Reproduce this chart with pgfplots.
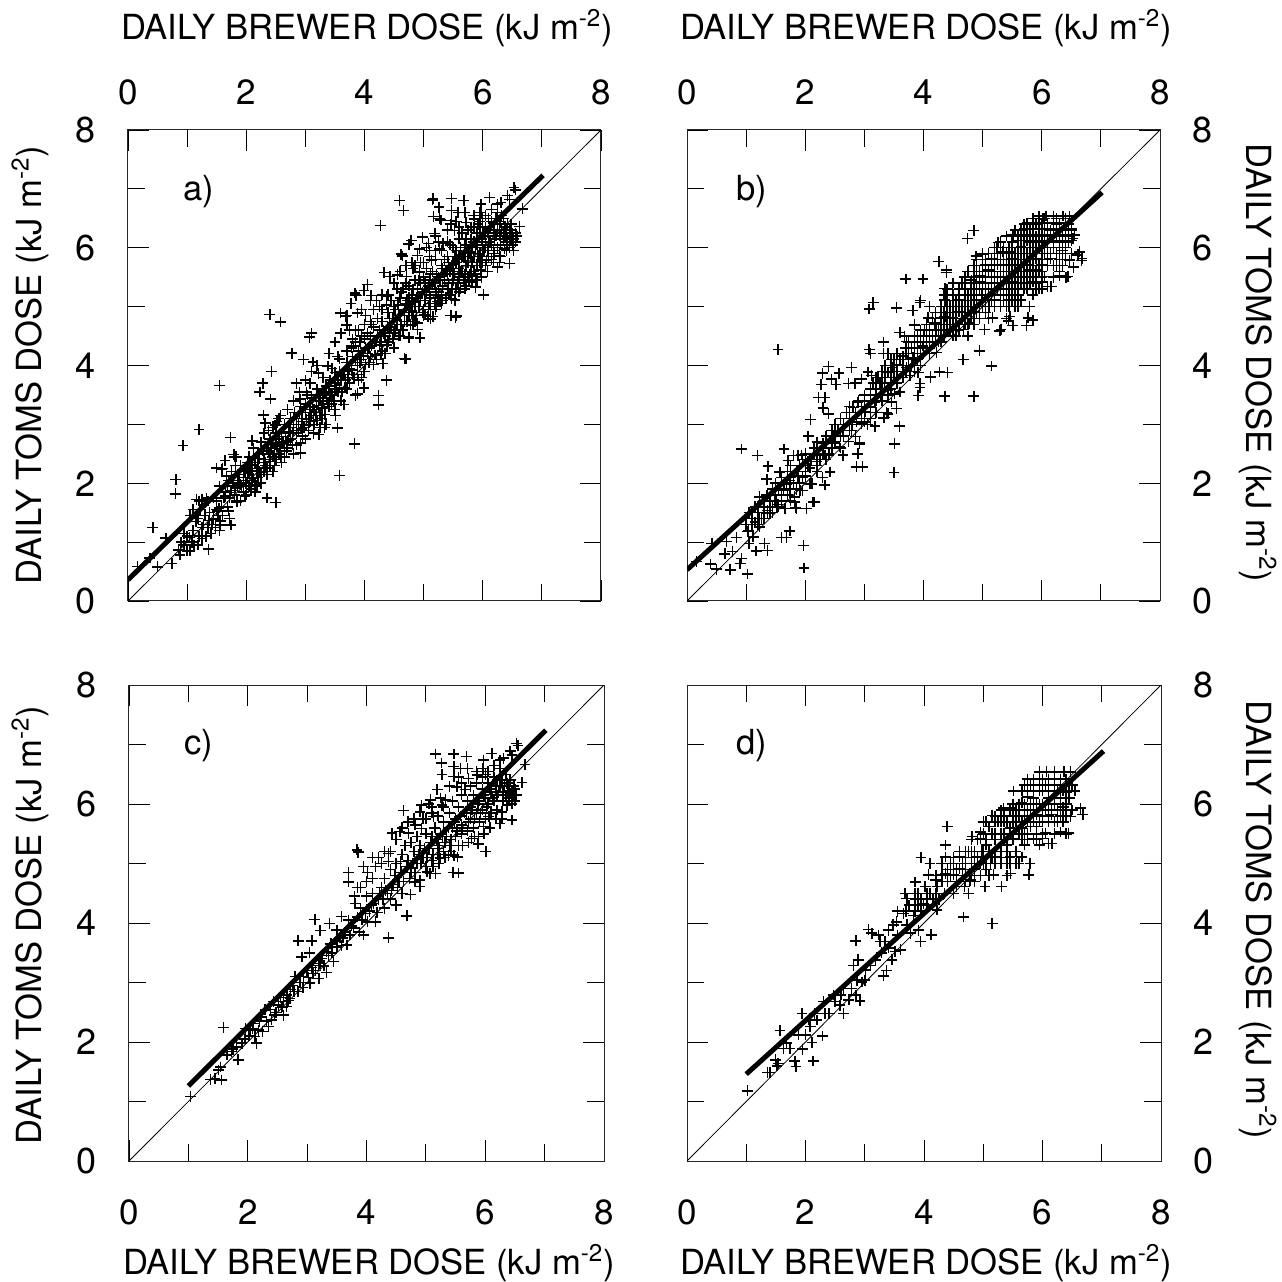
\documentclass[border=0pt]{standalone}
\usepackage{fontspec}
\setmainfont{TeX Gyre Heros}
\usepackage{pgfplots}
\usepackage{pgfplotstable}
\pgfplotsset{compat=1.18}
\pgfplotstableread[row sep=\\]{x y\\
1.04 1.08\\ 1.59 2.24\\ 1.37 1.37\\ 1.56 1.36\\ 1.51 1.53\\ 1.54 1.58\\ 1.45 1.38\\ 1.65 1.78\\ 1.73 1.84\\ 1.84 1.70\\ 1.81 1.92\\ 1.9 1.98\\ 1.96 2.23\\ 2.1 2.31\\ 2.15 1.98\\ 2.12 2.09\\ 2.29 2.54\\ 2.35 2.26\\ 2.4 2.37\\ 2.6 2.45\\ 2.58 2.59\\ 2.71 2.73\\ 2.66 2.79\\ 2.43 2.68\\ 2.8 3.1\\ 2.91 3.43\\ 2.85 3.7\\ 3.08 3.7\\ 3.04 3.5\\ 2.93 2.92\\ 3.05 2.99\\ 3.2 3.07\\ 3.33 3.17\\ 3.44 3.35\\ 3.19 3.29\\ 3.22 3.87\\ 3.13 4.06\\ 3.38 3.99\\ 3.5 3.88\\ 3.58 4.11\\ 3.95 3.8\\ 3.67 3.63\\ 3.5 3.6\\ 3.33 3.52\\ 3.81 4.33\\ 4.15 4.02\\ 4.12 4.33\\ 3.98 4.16\\
1.75 1.88\\ 1.95 2.05\\ 2.05 2.2\\ 2.2 2.35\\ 2.25 2.18\\ 2.48 2.5\\ 2.55 2.75\\ 2.65 2.6\\ 2.75 2.95\\ 2.85 2.85\\ 3.0 3.2\\ 3.1 3.15\\ 3.25 3.4\\ 3.4 3.65\\ 3.55 3.75\\
3.75 3.95\\ 3.7 4.05\\ 3.6 3.75\\ 3.85 4.1\\ 3.9 4.25\\ 4.0 4.45\\ 4.05 4.2\\ 4.1 4.5\\ 4.2 4.4\\ 4.25 4.6\\ 4.3 4.25\\ 4.3 4.75\\ 4.35 4.5\\ 4.4 4.4\\ 4.4 4.9\\ 4.45 4.65\\ 4.5 4.3\\ 4.5 5.0\\ 4.55 4.7\\ 4.6 4.5\\ 3.7 4.85\\ 3.7 4.69\\ 3.84 5.23\\ 3.86 5.19\\ 3.95 4.95\\ 4.0 4.7\\ 3.85 4.6\\ 3.8 4.45\\ 4.15 4.95\\ 4.25 5.0\\ 4.1 4.75\\ 4.02 4.85\\ 4.3 5.2\\
4.37 5.17\\ 4.37 5.03\\ 4.57 5.03\\ 4.43 5.51\\ 4.56 5.54\\ 4.71 5.51\\ 4.82 5.65\\ 4.93 5.59\\ 4.9 5.87\\ 4.93 5.98\\ 5.08 6.07\\ 5.19 6.24\\ 5.33 6.07\\ 5.27 5.98\\ 5.13 5.79\\ 5.52 6.29\\ 5.66 6.24\\ 5.47 6.46\\ 5.72 6.43\\ 5.86 6.49\\ 5.97 6.74\\ 6.11 6.85\\ 5.97 6.6\\ 6.25 6.74\\ 6.31 6.77\\ 6.25 6.6\\ 6.45 6.82\\ 6.2 6.4\\ 6.37 6.35\\ 6.42 6.18\\ 6.48 6.15\\ 6.37 5.98\\ 6.28 5.87\\ 6.06 5.79\\ 5.97 5.62\\ 5.89 5.45\\ 5.77 5.42\\ 5.53 5.11\\ 5.47 5.14\\ 5.38 5.14\\ 5.24 5.09\\ 5.07 4.83\\ 5.16 4.83\\ 5.02 4.86\\ 4.9 4.72\\ 4.9 4.61\\ 4.82 4.69\\
4.7 5.05\\ 4.75 4.85\\ 4.8 5.2\\ 4.85 5.0\\ 4.9 5.3\\ 4.95 5.1\\ 5.0 5.5\\ 5.0 4.95\\ 5.05 5.25\\ 5.1 5.45\\ 5.1 5.05\\ 5.15 5.6\\ 5.2 5.3\\ 5.2 5.15\\ 5.25 5.5\\ 5.3 5.7\\ 5.3 5.2\\ 5.35 5.45\\ 5.4 5.85\\ 5.4 5.3\\ 5.45 5.6\\ 5.5 5.45\\ 5.5 5.75\\ 5.55 5.95\\ 5.55 5.3\\ 5.6 5.65\\ 5.6 5.5\\ 5.65 5.85\\ 5.7 6.05\\ 5.7 5.55\\ 5.75 5.75\\ 5.75 5.95\\ 5.8 5.6\\ 5.8 6.15\\ 5.85 5.85\\ 5.9 6.05\\ 5.9 5.7\\ 5.95 6.25\\ 5.95 5.9\\ 6.0 6.1\\ 6.0 5.75\\ 6.05 6.35\\ 6.05 6.0\\ 6.1 6.2\\ 6.1 5.85\\ 6.15 6.05\\ 6.15 6.45\\ 6.2 6.15\\ 6.2 5.9\\ 6.25 6.3\\ 6.3 6.05\\ 6.3 6.2\\ 6.35 6.15\\ 6.4 6.1\\ 6.4 6.3\\ 6.45 6.0\\ 6.45 6.2\\ 6.5 6.25\\ 6.5 6.05\\ 4.65 5.3\\ 4.6 5.15\\ 4.75 5.35\\ 4.85 5.45\\ 5.0 5.75\\ 5.1 5.85\\ 5.3 5.95\\ 5.2 5.8\\ 5.45 6.05\\ 5.6 6.15\\ 5.75 6.3\\ 5.85 6.35\\ 5.95 6.45\\ 6.05 6.55\\ 6.15 6.65\\ 6.35 6.5\\
5.16 6.84\\ 5.47 6.84\\ 5.68 6.8\\ 5.26 6.69\\ 5.47 6.63\\ 5.58 6.6\\ 5.27 6.5\\ 6.53 7.02\\ 6.55 6.98\\ 6.42 6.89\\ 6.67 6.66\\ 6.62 6.36\\ 6.45 5.73\\ 6.01 5.2\\ 5.55 4.84\\ 4.62 5.89\\ 4.68 4.12\\ 4.37 3.75\\ 4.74 4.48\\ 6.25 5.67\\ 5.88 5.33\\ 5.46 4.85\\
2.02 2.1\\ 2.08 2.22\\ 2.18 2.2\\ 2.22 2.42\\ 2.32 2.35\\ 2.38 2.55\\ 2.45 2.45\\ 2.52 2.62\\ 2.6 2.68\\ 2.68 2.7\\ 2.72 2.88\\ 2.78 2.85\\ 2.88 3.0\\ 2.94 3.1\\ 3.02 3.08\\ 3.08 3.25\\ 3.14 3.2\\ 3.22 3.32\\ 3.28 3.28\\ 3.36 3.45\\ 3.42 3.5\\ 3.5 3.7\\ 3.58 3.62\\ 3.64 3.85\\ 3.72 3.8\\ 3.78 3.92\\ 3.88 3.85\\ 3.92 4.05\\ 4.02 4.02\\ 4.08 4.3\\ 4.18 4.18\\ 4.22 4.5\\ 4.28 4.4\\ 4.32 4.55\\ 4.42 4.55\\ 4.48 4.8\\ 4.52 4.6\\ 4.58 4.85\\ 4.62 4.7\\ 4.68 4.95\\ 4.72 4.75\\ 4.78 5.0\\ 4.82 4.85\\ 4.88 5.15\\ 4.92 5.0\\ 4.98 5.25\\ 5.02 5.1\\ 5.08 5.35\\ 5.12 5.15\\ 5.18 5.4\\ 5.22 5.25\\ 5.28 5.45\\ 5.32 5.35\\ 5.38 5.6\\ 5.42 5.4\\ 5.48 5.7\\ 5.52 5.55\\ 5.58 5.8\\ 5.62 5.6\\ 5.68 5.85\\ 5.72 5.7\\ 5.78 5.9\\ 5.82 5.75\\ 5.88 6.0\\ 5.92 5.85\\ 5.98 6.15\\ 6.02 5.95\\ 6.08 6.25\\ 6.12 6.1\\ 6.18 6.3\\ 6.22 6.2\\ 6.28 6.4\\ 6.32 6.3\\ 6.38 6.2\\ 6.42 6.4\\ 6.48 6.3\\ 6.52 6.15\\ 6.28 5.75\\ 6.18 5.75\\ 6.08 5.6\\ 5.98 5.5\\ 5.82 5.45\\ 5.72 5.35\\ 5.62 5.3\\ 5.42 5.2\\ 5.32 5.1\\ 5.12 4.95\\ 5.22 5.0\\ 5.95 6.6\\ 6.0 6.5\\ 5.85 6.55\\ 5.7 6.6\\ 5.55 6.45\\ 5.4 6.3\\ 5.6 6.35\\ 5.25 6.1\\ 5.05 6.0\\ 5.1 5.95\\ 4.95 5.75\\ 4.8 5.75\\ 4.7 5.7\\ 4.6 5.6\\ 4.5 5.4\\ 4.4 5.2\\ 4.2 5.1\\ 4.1 5.1\\ 3.9 4.6\\
}\Acommon
\pgfplotstableread[row sep=\\]{x y\\
2.40 4.87\\ 2.58 4.74\\ 1.55 3.66\\ 1.20 2.91\\ 0.93 2.64\\ 0.81 2.06\\ 0.80 1.82\\ 0.42 1.25\\ 0.64 1.07\\ 0.16 0.59\\ 0.50 0.58\\ 0.37 0.73\\ 0.74 0.64\\ 1.36 0.88\\ 1.18 0.95\\ 1.25 1.06\\ 1.74 1.29\\ 1.56 1.29\\ 1.70 1.53\\ 2.35 1.75\\ 2.50 1.67\\ 3.58 2.13\\ 3.83 2.67\\ 1.73 2.78\\ 2.10 2.72\\ 2.43 3.90\\ 2.28 3.70\\ 2.23 3.55\\ 2.41 3.43\\ 2.77 4.21\\ 2.97 4.10\\ 3.10 4.55\\ 3.07 4.48\\
4.27 6.38\\ 5.15 6.81\\ 4.59 6.80\\ 4.66 6.63\\ 5.17 6.53\\ 5.29 6.47\\ 5.46 6.40\\ 4.64 5.86\\ 4.79 6.12\\ 4.75 6.06\\ 4.98 6.18\\ 5.20 6.20\\ 4.33 5.58\\ 4.05 5.38\\ 3.99 5.27\\ 3.85 5.20\\ 4.11 5.19\\ 5.54 4.82\\ 5.12 4.79\\ 4.75 4.47\\ 4.94 4.47\\ 4.70 4.11\\ 4.31 4.03\\ 4.24 3.49\\ 4.24 3.33\\ 3.99 3.62\\ 3.85 3.49\\ 3.88 3.52\\
1.16 1.72\\ 1.33 1.75\\ 1.5 2.26\\ 1.64 2.39\\ 1.79 2.49\\ 1.83 2.45\\ 1.67 2.12\\ 1.98 1.78\\ 1.84 1.68\\ 2.29 3.16\\ 2.32 3.02\\ 2.58 3.15\\ 2.49 2.99\\ 2.92 2.68\\ 2.92 2.51\\ 3.14 2.85\\ 3.23 2.83\\ 3.54 2.94\\ 3.32 2.95\\ 3.51 3.15\\ 3.65 3.34\\ 3.85 3.5\\ 3.88 4.89\\ 3.68 4.83\\ 3.59 4.89\\ 3.85 5.2\\ 3.77 5.05\\
0.85 0.87\\ 0.9 1.0\\ 0.95 0.95\\ 1.0 1.1\\ 0.88 0.78\\ 1.05 0.85\\ 1.1 1.2\\ 1.15 1.35\\ 1.2 1.1\\ 1.25 1.25\\ 1.05 1.45\\ 1.1 1.55\\ 1.2 1.7\\ 1.25 1.72\\ 1.35 1.7\\ 1.3 1.45\\ 1.35 1.25\\ 1.45 1.4\\ 1.5 1.55\\ 1.4 1.15\\ 1.45 1.75\\ 1.55 1.2\\
1.5 1.7\\ 1.55 1.95\\ 1.6 1.45\\ 1.6 2.25\\ 1.65 1.85\\ 1.68 1.6\\ 1.7 2.05\\ 1.72 1.4\\ 1.75 2.2\\ 1.8 2.45\\ 1.8 1.8\\ 1.85 1.95\\ 1.85 2.15\\ 1.9 1.7\\ 1.9 2.3\\ 1.95 2.1\\ 1.95 1.85\\ 2.0 2.25\\ 2.0 2.0\\ 2.0 1.8\\ 2.05 2.45\\ 2.05 1.95\\ 2.1 2.2\\ 2.1 2.05\\ 2.15 2.35\\ 2.15 1.85\\ 2.2 2.5\\ 2.2 2.1\\ 2.2 2.25\\ 2.25 2.7\\ 2.25 2.0\\ 2.3 2.4\\ 2.3 2.2\\ 2.3 2.85\\ 2.35 2.6\\ 2.35 2.15\\ 2.4 2.5\\ 2.4 2.75\\ 2.4 2.3\\ 2.45 2.95\\ 2.45 2.2\\ 2.5 2.65\\ 2.5 2.4\\ 2.5 2.85\\
2.55 3.1\\ 2.55 2.5\\ 2.6 2.85\\ 2.6 2.35\\ 2.65 3.0\\ 2.65 2.45\\ 2.7 3.25\\ 2.7 2.6\\ 2.75 2.75\\ 2.75 3.1\\ 2.8 2.5\\ 2.8 2.9\\ 2.8 3.4\\ 2.85 3.0\\ 2.85 2.65\\ 2.9 3.2\\ 2.9 3.55\\ 2.95 2.8\\ 2.95 3.05\\ 3.0 3.35\\ 3.0 2.75\\ 3.0 3.75\\ 3.05 3.1\\ 3.05 2.9\\ 3.1 3.45\\ 3.1 3.9\\ 3.15 3.0\\ 3.15 3.25\\ 3.2 3.6\\ 3.2 4.0\\ 3.25 3.15\\ 3.25 2.95\\ 3.3 3.4\\ 3.3 3.8\\ 3.35 3.65\\ 3.35 3.0\\ 3.4 3.3\\ 3.4 4.2\\ 3.45 3.5\\ 3.45 3.95\\ 3.5 3.25\\ 3.5 4.4\\ 3.55 3.55\\ 3.55 4.15\\ 3.6 3.4\\ 3.6 4.55\\ 3.65 3.85\\ 3.7 3.6\\ 3.7 4.25\\ 3.75 4.6\\ 3.75 3.7\\ 3.8 3.85\\ 3.8 4.15\\ 3.85 4.4\\ 3.9 3.75\\ 3.95 4.5\\ 3.95 4.1\\ 4.0 3.9\\ 4.05 4.55\\ 4.1 4.15\\ 4.15 4.65\\ 4.2 4.1\\ 4.25 4.35\\ 4.3 4.95\\ 4.35 4.2\\ 4.4 4.65\\ 4.45 5.1\\ 4.5 4.55\\ 4.55 5.3\\ 4.6 4.85\\ 4.65 4.6\\ 4.7 5.4\\ 4.75 5.15\\ 4.8 4.9\\ 4.85 4.75\\ 4.85 5.7\\ 4.9 5.15\\ 4.95 5.4\\ 5.0 4.85\\ 5.05 5.65\\ 5.1 5.2\\ 5.15 5.4\\ 5.2 4.95\\ 5.2 5.95\\ 5.25 5.25\\ 5.3 5.05\\ 5.35 5.8\\ 5.4 5.55\\ 5.4 6.1\\ 5.45 5.2\\ 5.5 5.6\\ 5.5 6.0\\ 5.55 5.75\\ 5.6 5.25\\ 5.6 5.85\\ 5.65 5.6\\ 5.65 6.25\\ 5.7 5.3\\ 5.7 5.85\\ 5.75 5.5\\ 5.8 5.85\\ 5.8 6.35\\ 5.85 5.6\\ 5.85 6.1\\ 5.9 5.45\\ 5.9 6.25\\ 5.95 5.75\\ 6.0 6.35\\ 6.0 5.95\\ 6.05 5.7\\ 6.05 6.2\\ 6.1 6.05\\ 6.1 6.5\\ 6.15 5.8\\ 6.2 6.3\\ 6.25 6.0\\ 6.3 5.85\\ 6.3 6.45\\ 6.35 6.25\\ 6.4 5.95\\ 6.45 6.3\\ 6.5 6.15\\ 6.55 6.1\\ 6.55 6.25\\
0.95 1.15\\ 1.0 0.85\\ 1.08 1.0\\ 1.12 0.95\\ 1.18 1.4\\ 1.22 1.55\\ 1.28 1.3\\ 1.32 1.1\\ 1.38 1.5\\ 1.42 1.3\\ 1.48 1.25\\ 1.52 1.45\\ 1.58 1.6\\ 1.62 1.75\\ 1.68 1.95\\ 1.72 1.75\\ 1.78 2.0\\ 1.82 2.3\\ 1.88 2.05\\ 1.92 1.95\\ 1.98 2.2\\ 2.02 2.35\\ 2.08 1.9\\ 2.12 2.6\\ 2.18 1.95\\ 2.22 2.2\\ 2.28 2.55\\ 2.32 2.3\\ 2.38 2.9\\ 2.42 2.6\\ 2.48 2.3\\ 2.52 3.05\\ 2.58 2.45\\ 2.62 2.7\\ 2.68 2.55\\ 2.72 2.95\\ 2.78 2.65\\ 2.82 3.2\\ 2.88 2.9\\ 2.92 3.3\\ 2.98 2.95\\ 3.02 3.55\\ 3.08 3.05\\ 3.12 3.3\\ 3.18 3.15\\ 3.22 3.5\\ 3.28 3.1\\ 3.32 3.55\\ 3.38 3.35\\ 3.42 3.75\\ 3.48 3.4\\ 3.52 3.6\\ 3.58 3.9\\ 3.62 3.55\\ 3.68 3.75\\ 3.72 3.9\\ 3.78 4.3\\ 3.82 3.8\\ 3.88 4.0\\ 3.92 4.4\\ 3.98 3.9\\ 4.02 4.3\\ 4.08 4.05\\ 4.12 4.7\\ 4.18 4.4\\ 4.22 4.8\\ 4.28 4.2\\ 4.32 4.6\\ 4.38 4.35\\ 4.42 4.8\\ 4.48 4.45\\ 4.52 4.95\\ 4.58 4.5\\ 4.62 5.25\\ 4.68 4.75\\ 4.72 5.1\\ 4.78 4.7\\ 4.82 5.3\\ 4.88 4.85\\ 4.92 5.45\\ 4.98 4.9\\ 5.02 5.4\\ 5.08 5.0\\ 5.12 5.55\\ 5.18 5.05\\ 5.22 5.55\\ 5.28 5.1\\ 5.32 5.65\\ 5.38 5.15\\ 5.42 5.75\\ 5.48 5.3\\ 5.52 5.85\\ 5.58 5.4\\ 5.62 6.0\\ 5.68 5.45\\ 5.72 6.15\\ 5.78 5.55\\ 5.82 6.0\\ 5.88 5.55\\ 5.92 6.4\\ 5.98 5.8\\ 6.02 6.25\\ 6.08 5.95\\ 6.12 6.35\\ 6.18 5.95\\ 6.22 6.5\\ 6.28 6.2\\ 6.32 6.55\\ 6.38 6.35\\ 6.42 6.05\\ 6.48 6.4\\ 6.52 5.95\\ 6.58 6.2\\
}\Aextra
\pgfplotstableread[row sep=\\]{x y\\
1.02 1.18\\ 1.36 1.49\\ 1.40 1.49\\ 1.54 1.64\\ 1.49 1.70\\ 1.52 1.6\\ 1.57 2.19\\ 1.82 1.68\\ 1.84 1.59\\ 2.13 1.68\\ 1.95 1.88\\ 2.11 1.99\\ 2.29 2.1\\ 1.68 1.98\\ 1.63 1.89\\ 1.74 1.89\\ 1.88 2.12\\ 1.94 2.48\\ 2.08 2.26\\ 2.05 2.37\\ 2.3 2.68\\ 2.33 2.48\\ 2.19 2.37\\ 2.64 2.48\\ 2.58 2.62\\ 2.92 2.69\\ 2.73 2.71\\ 2.47 2.79\\ 2.64 2.9\\ 2.81 3.29\\ 2.89 3.38\\ 2.85 3.7\\ 3.32 3.11\\ 3.37 3.2\\ 2.95 3.01\\ 2.87 3.04\\ 3.06 3.89\\ 3.12 3.83\\ 3.23 3.8\\ 3.26 3.69\\ 3.34 3.69\\ 3.4 3.88\\ 3.48 3.97\\ 3.51 3.52\\ 3.6 3.55\\ 3.46 3.38\\ 3.18 3.38\\ 3.01 3.21\\ 3.94 3.69\\ 4.12 3.81\\ 3.91 3.88\\ 3.77 3.83\\ 3.71 3.97\\ 3.54 4.02\\ 3.65 4.16\\ 3.82 4.13\\ 3.99 4.33\\ 4.22 4.22\\ 2.0 2.12\\ 2.15 2.48\\ 2.4 2.48\\ 2.5 2.68\\ 2.6 2.79\\ 2.78 2.9\\ 2.85 2.79\\ 3.0 3.04\\ 3.1 3.29\\ 3.28 3.5\\ 3.4 3.58\\ 3.55 3.8\\
4.39 5.62\\ 4.36 5.31\\ 3.95 5.1\\ 5.15 3.99\\ 4.67 4.1\\ 4.12 3.8\\ 5.51 6.22\\ 5.65 6.22\\ 5.34 5.93\\ 6.07 6.54\\ 6.2 6.54\\ 6.36 6.54\\ 6.47 6.54\\ 6.55 6.22\\ 6.64 5.93\\ 6.68 5.82\\ 6.47 5.79\\ 6.44 5.51\\ 6.16 5.34\\ 5.77 4.81\\ 5.79 5\\ 5.31 4.61\\ 5.46 4.83\\ 5.03 4.61\\ 4.75 4.5\\ 5.17 4.81\\ 4.95 5.42\\ 4.95 5.53\\ 4.81 5.45\\ 4.36 5.11\\ 4.10 5\\ 4.36 4.83\\ 4.08 4.81\\ 4.19 4.72\\ 3.85 4.69\\ 4.02 4.61\\ 3.68 4.5\\ 3.71 4.41\\ 3.85 4.5\\ 3.95 4.41\\ 4.1 4.5\\ 4.22 4.61\\ 4.3 4.81\\ 4.3 5.0\\ 4.5 5.0\\ 4.6 5.11\\ 4.5 4.81\\ 4.55 4.61\\ 4.68 4.61\\ 4.78 4.72\\ 4.85 4.91\\ 4.6 4.91\\ 4.7 5.2\\ 4.8 5.2\\ 4.9 5.11\\ 4.98 5.2\\ 5.05 5.31\\ 5.12 5.0\\ 5.0 5.0\\ 5.1 5.2\\ 5.2 5.11\\ 5.3 5.0\\ 5.4 5.0\\ 5.45 5.11\\ 5.55 5.2\\ 5.65 5.11\\ 5.7 5.31\\ 5.6 5.0\\ 5.85 5.42\\ 5.95 5.31\\ 6.0 5.42\\ 6.1 5.34\\ 6.05 5.51\\ 6.3 5.53\\ 6.35 5.7\\ 6.2 5.7\\ 5.9 5.62\\ 5.8 5.62\\ 5.7 5.5\\ 5.5 5.42\\ 5.4 5.31\\ 5.2 5.5\\ 5.1 5.62\\ 5.25 5.71\\ 5.35 5.5\\ 5.15 5.81\\ 5.05 5.71\\ 5.45 5.6\\ 5.55 5.71\\ 5.65 5.6\\ 5.6 5.9\\ 5.5 5.81\\ 5.4 5.71\\ 5.45 5.93\\ 5.7 5.9\\ 5.75 5.71\\ 5.8 6.0\\ 5.85 6.1\\ 5.9 5.82\\ 5.95 6.0\\ 6.0 5.71\\ 6.05 5.9\\ 6.1 6.1\\ 6.15 5.82\\ 6.2 6.0\\ 6.25 5.9\\ 6.3 6.1\\ 6.35 5.95\\ 6.4 6.2\\ 6.45 6.1\\ 6.5 6.32\\ 6.4 6.42\\ 6.3 6.32\\ 6.2 6.42\\ 6.1 6.32\\ 6.0 6.22\\ 5.95 6.42\\ 5.85 6.32\\ 5.75 6.12\\ 5.65 6.02\\ 5.95 6.54\\ 6.1 6.42\\
5.75 6.42\\ 5.85 6.42\\ 6.0 6.42\\ 6.3 6.42\\ 5.7 6.32\\ 5.8 6.32\\ 5.95 6.32\\ 6.05 6.32\\ 6.2 6.32\\ 6.4 6.32\\ 5.75 6.22\\ 5.85 6.22\\ 5.95 6.22\\ 6.1 6.22\\ 6.25 6.22\\ 6.35 6.22\\ 6.45 6.22\\ 5.5 6.0\\ 5.6 6.0\\ 5.7 6.0\\ 5.9 6.0\\ 6.0 6.0\\ 6.1 6.0\\ 6.3 6.0\\ 6.4 6.0\\ 5.3 5.9\\ 5.45 5.9\\ 5.55 5.9\\ 5.75 5.9\\ 5.85 5.9\\ 6.15 5.9\\ 6.35 5.9\\ 6.5 5.9\\ 5.2 5.8\\ 5.35 5.8\\ 5.5 5.8\\ 5.6 5.8\\ 5.7 5.8\\ 5.8 5.8\\ 6.0 5.8\\ 6.1 5.8\\ 6.3 5.8\\ 6.4 5.8\\ 5.0 5.7\\ 5.2 5.7\\ 5.3 5.7\\ 5.35 5.7\\ 5.5 5.7\\ 5.65 5.7\\ 5.85 5.7\\ 5.95 5.7\\ 6.1 5.7\\ 6.25 5.7\\ 5.0 5.5\\ 5.15 5.5\\ 5.3 5.5\\ 5.45 5.5\\ 5.6 5.5\\ 5.75 5.5\\ 5.9 5.5\\ 6.0 5.5\\ 6.2 5.5\\ 6.4 5.5\\ 4.8 5.4\\ 4.9 5.4\\ 5.05 5.4\\ 5.2 5.4\\ 5.35 5.4\\ 5.5 5.4\\ 5.65 5.4\\ 5.75 5.4\\ 5.9 5.4\\ 4.6 5.2\\ 4.75 5.2\\ 4.85 5.2\\ 5.0 5.2\\ 5.2 5.2\\ 5.3 5.2\\ 5.4 5.2\\ 5.55 5.2\\ 4.5 5.1\\ 4.7 5.1\\ 4.85 5.1\\ 5.0 5.1\\ 5.15 5.1\\ 5.3 5.1\\ 5.45 5.1\\ 4.45 5.0\\ 4.65 5.0\\ 4.8 5.0\\ 4.95 5.0\\ 5.05 5.0\\ 5.2 5.0\\ 5.45 5.0\\ 5.55 5.0\\ 4.4 4.9\\ 4.55 4.9\\ 4.7 4.9\\ 4.85 4.9\\ 5.05 4.9\\ 4.2 4.8\\ 4.45 4.8\\ 4.65 4.8\\ 4.8 4.8\\ 4.95 4.8\\ 5.1 4.8\\ 5.4 4.8\\ 4.3 4.7\\ 4.4 4.7\\ 4.55 4.7\\ 4.7 4.7\\ 4.85 4.7\\ 3.9 4.5\\ 4.05 4.5\\ 4.2 4.5\\ 4.35 4.5\\ 4.5 4.5\\ 3.85 4.4\\ 4.05 4.4\\ 4.15 4.4\\ 4.25 4.4\\ 3.75 4.3\\ 3.9 4.3\\ 4.05 4.3\\ 3.55 4.2\\ 3.7 4.2\\ 3.85 4.2\\ 3.95 4.2\\
}\Bcommon
\pgfplotstableread[row sep=\\]{x y\\
5.6 6.12\\ 5.7 6.12\\ 5.9 6.12\\ 6.0 6.12\\ 6.2 6.12\\ 6.35 6.12\\ 6.5 6.12\\ 4.9 5.6\\ 5.05 5.6\\ 5.2 5.6\\ 5.35 5.6\\ 5.4 5.6\\ 5.6 5.6\\ 5.8 5.6\\ 5.95 5.6\\ 6.0 5.6\\ 6.3 5.6\\ 4.7 5.3\\ 4.85 5.3\\ 4.95 5.3\\ 5.15 5.3\\ 5.25 5.3\\ 5.45 5.3\\ 5.6 5.3\\ 5.75 5.3\\ 6.0 5.3\\ 4.1 4.6\\ 4.3 4.6\\ 4.45 4.6\\ 4.6 4.6\\ 3.45 4.1\\ 3.6 4.1\\ 3.75 4.1\\
1.54 4.27\\ 0.92 2.58\\ 1.19 2.47\\ 1.37 2.29\\ 1.57 2.18\\ 1.35 2.07\\ 1.64 2.58\\ 0.42 0.98\\ 0.16 0.67\\ 0.40 0.63\\ 0.5 0.54\\ 0.73 0.53\\ 1.02 0.46\\ 0.64 0.8\\ 0.77 0.84\\ 0.84 1.08\\ 0.67 1.01\\ 0.92 0.72\\ 0.9 0.64\\ 1.17 0.85\\ 1.36 0.86\\ 1.31 0.98\\ 1.05 0.98\\ 1.6 1.08\\ 1.68 1.08\\ 1.74 1.19\\ 1.97 0.94\\ 1.98 0.56\\ 1.12 1.09\\ 1.04 1.2\\ 1.23 1.26\\ 1.15 1.34\\ 1.26 1.4\\ 1.15 1.6\\ 1.23 1.77\\ 1.36 1.54\\ 1.51 1.71\\ 1.66 1.57\\ 1.85 1.57\\ 2.02 1.57\\ 2.15 1.68\\ 1.82 1.77\\ 1.63 1.88\\ 1.74 2.05\\ 2.08 1.99\\ 1.91 1.88\\ 1.8 2.47\\ 1.88 2.47\\ 1.71 2.39\\ 2.05 2.8\\ 2.09 3.08\\ 2.29 3.87\\ 2.39 3.98\\ 2.57 3.87\\ 2.27 3.68\\ 2.44 3.77\\ 2.52 3.68\\ 2.78 3.97\\ 2.73 3.69\\ 2.84 3.69\\ 2.95 3.77\\ 2.22 3.46\\ 2.33 3.46\\ 2.3 3.28\\ 2.39 3.18\\ 3.08 4.27\\ 3.1 4.2\\ 3.15 5.07\\ 3.08 4.96\\ 3.54 4.98\\ 3.6 4.56\\ 3.32 4.4\\ 3.32 4.2\\ 3.4 4.2\\ 3.59 2.97\\ 3.51 2.67\\ 3.5 2.18\\ 2.87 2.28\\ 2.97 2.28\\ 2.92 2.67\\ 2.89 2.5\\ 2.64 2.47\\ 2.33 1.97\\ 2.42 2.19\\ 3.34 3.12\\ 3.18 2.97\\ 3.54 3.27\\ 3.4 3.18\\
4.85 6.29\\ 4.74 6.16\\ 4.26 5.77\\ 3.7 5.47\\ 3.99 5.47\\ 4.85 3.48\\ 4.36 3.48\\ 4.95 4.25\\ 4.27 3.89\\ 4.41 3.88\\ 3.94 3.63\\ 3.91 3.49\\ 6.67 5.78\\ 6.54 5.67\\ 6.61 5.88\\ 6.53 6.16\\ 6.41 5.5\\ 5.85 4.77\\ 5.74 4.68\\ 5.51 4.68\\ 5.29 4.59\\ 5.44 4.76\\ 5.26 6.09\\ 5.24 6.0\\ 4.89 5.86\\ 5.0 5.89\\ 4.39 5.58\\ 3.94 5.07\\ 3.82 4.93\\ 5.9 6.4\\ 6.02 6.49\\
1.0 1.3\\ 1.1 1.3\\ 1.2 1.3\\ 1.1 1.4\\ 1.22 1.4\\ 1.3 1.4\\ 1.05 1.5\\ 1.2 1.5\\ 1.3 1.5\\ 1.45 1.5\\ 1.2 1.6\\ 1.3 1.6\\ 1.45 1.6\\ 1.55 1.6\\ 1.3 1.7\\ 1.4 1.7\\ 1.6 1.7\\ 1.75 1.7\\ 1.35 1.8\\ 1.5 1.8\\ 1.6 1.8\\ 1.7 1.8\\ 1.45 1.9\\ 1.55 1.9\\ 1.75 1.9\\ 1.85 1.9\\ 1.5 2.0\\ 1.65 2.0\\ 1.8 2.0\\ 1.9 2.0\\ 1.6 2.1\\ 1.75 2.1\\ 1.95 2.1\\ 1.7 2.2\\ 1.85 2.2\\ 2.0 2.2\\ 2.2 2.2\\ 1.75 2.3\\ 1.9 2.3\\ 2.05 2.3\\ 2.2 2.3\\ 1.95 2.4\\ 2.1 2.4\\ 2.25 2.4\\ 2.35 2.4\\ 2.0 2.5\\ 2.2 2.5\\ 2.3 2.5\\ 2.4 2.5\\ 2.15 2.6\\ 2.3 2.6\\ 2.45 2.6\\ 2.6 2.6\\ 2.2 2.7\\ 2.35 2.7\\ 2.5 2.7\\ 2.35 2.8\\ 2.5 2.8\\ 2.65 2.8\\ 2.45 2.9\\ 2.55 2.9\\ 2.75 2.9\\ 2.5 3.0\\ 2.65 3.0\\ 2.8 3.0\\ 3.05 3.0\\ 2.6 3.1\\ 2.75 3.1\\ 2.95 3.1\\ 3.1 3.1\\ 2.7 3.2\\ 2.85 3.2\\ 3.0 3.2\\ 3.2 3.2\\ 2.75 3.3\\ 2.95 3.3\\ 3.1 3.3\\ 2.9 3.4\\ 3.0 3.4\\ 3.2 3.4\\ 3.3 3.4\\ 3.0 3.5\\ 3.1 3.5\\ 3.3 3.5\\ 3.4 3.5\\ 3.1 3.6\\ 3.2 3.6\\ 3.45 3.6\\ 3.15 3.7\\ 3.3 3.7\\ 3.45 3.7\\ 3.55 3.7\\ 3.2 3.8\\ 3.35 3.8\\ 3.5 3.8\\ 3.65 3.8\\ 3.3 3.9\\ 3.45 3.9\\ 3.55 3.9\\ 3.7 3.9\\ 3.85 3.9\\ 3.35 4.0\\ 3.5 4.0\\ 3.65 4.0\\ 3.8 4.0\\ 3.95 4.0\\ 3.5 4.1\\ 3.6 4.1\\ 3.75 4.1\\ 3.9 4.1\\ 3.55 4.2\\ 3.7 4.2\\ 3.85 4.2\\ 4.0 4.2\\ 4.1 4.2\\ 3.7 4.3\\ 3.8 4.3\\ 3.95 4.3\\ 4.1 4.3\\ 3.75 4.4\\ 3.9 4.4\\ 4.05 4.4\\ 4.2 4.4\\ 4.3 4.4\\ 3.85 4.5\\ 4.0 4.5\\ 4.15 4.5\\ 4.3 4.5\\ 4.55 4.5\\ 3.95 4.6\\ 4.1 4.6\\ 4.25 4.6\\ 4.4 4.6\\ 4.6 4.6\\ 4.05 4.7\\ 4.2 4.7\\ 4.35 4.7\\ 4.5 4.7\\ 4.75 4.7\\ 4.15 4.8\\ 4.3 4.8\\ 4.55 4.8\\ 4.7 4.8\\ 4.2 4.9\\ 4.35 4.9\\ 4.5 4.9\\ 4.7 4.9\\ 4.9 4.9\\ 5.05 4.9\\ 4.3 5.0\\ 4.5 5.0\\ 4.6 5.0\\ 4.75 5.0\\ 4.9 5.0\\ 5.1 5.0\\ 5.3 5.0\\ 4.4 5.1\\ 4.55 5.1\\ 4.7 5.1\\ 4.9 5.1\\ 5.05 5.1\\ 5.2 5.1\\ 5.35 5.1\\ 5.5 5.1\\ 4.35 5.2\\ 4.5 5.2\\ 4.7 5.2\\ 4.9 5.2\\ 5.05 5.2\\ 5.15 5.2\\ 5.35 5.2\\ 5.6 5.2\\ 5.85 5.2\\ 4.4 5.3\\ 4.6 5.3\\ 4.8 5.3\\ 5.0 5.3\\ 5.1 5.3\\ 5.35 5.3\\ 5.5 5.3\\ 5.7 5.3\\ 5.9 5.3\\ 4.5 5.4\\ 4.65 5.4\\ 4.85 5.4\\ 5.0 5.4\\ 5.15 5.4\\ 5.3 5.4\\ 5.55 5.4\\ 5.8 5.4\\ 4.7 5.5\\ 4.85 5.5\\ 5.0 5.5\\ 5.25 5.5\\ 5.4 5.5\\ 5.55 5.5\\ 5.7 5.5\\ 5.85 5.5\\ 4.75 5.6\\ 4.95 5.6\\ 5.1 5.6\\ 5.3 5.6\\ 5.45 5.6\\ 5.7 5.6\\ 5.9 5.6\\ 4.85 5.7\\ 5.0 5.7\\ 5.15 5.7\\ 5.4 5.7\\ 5.6 5.7\\ 5.8 5.7\\ 4.9 5.8\\ 5.05 5.8\\ 5.3 5.8\\ 5.45 5.8\\ 5.65 5.8\\ 5.0 5.9\\ 5.1 5.9\\ 5.25 5.9\\ 5.4 5.9\\ 5.55 5.9\\ 5.7 5.9\\ 5.85 5.9\\ 5.2 6.0\\ 5.35 6.0\\ 5.45 6.0\\ 5.65 6.0\\ 5.85 6.0\\ 5.3 6.1\\ 5.5 6.1\\ 5.8 6.1\\ 5.95 6.1\\ 5.4 6.2\\ 5.6 6.2\\ 5.7 6.2\\ 5.9 6.2\\ 6.05 6.2\\ 6.3 6.2\\ 5.55 6.3\\ 5.65 6.3\\ 6.15 6.3\\ 6.35 6.3\\ 6.5 6.3\\ 5.7 6.4\\ 5.85 6.4\\ 6.25 6.4\\ 6.45 6.4\\ 5.85 6.5\\ 6.05 6.5\\ 6.25 6.5\\ 6.4 6.5\\
}\Bextra
\pgfplotsset{
  panel/.style={scale only axis, xmin=0,xmax=8,ymin=0,ymax=8,
    xtick={0,2,4,6,8},ytick={0,2,4,6,8},minor x tick num=1,minor y tick num=1,
    tick align=inside,major tick length=10.5pt,minor tick length=8.5pt,
    every tick/.style={black,line width=0.45pt},
    axis line style={black!85,line width=0.5pt},
    x tick label style={font=\fontsize{17.5}{17.5}\selectfont},
    y tick label style={font=\fontsize{18}{18}\selectfont},
    /pgf/number format/assume math mode=true,
    clip=true},
  topl/.style={xticklabel pos=top,xticklabel style={yshift=9pt}},
  botl/.style={xticklabel pos=bottom,xticklabel style={yshift=-15.9pt}},
  lefl/.style={yticklabel pos=left,yticklabel style={xshift=-12.5pt}},
  rigl/.style={yticklabel pos=right,yticklabel style={xshift=12.5pt}},
  pts/.style={only marks,mark=+,mark size=2.7pt,mark options={line width=0.75pt,black}},
  fit/.style={black,line width=2.5pt,line cap=butt,no marks},
  ident/.style={black,line width=0.4pt,no marks}
}
\newcommand{\lab}{\fontsize{17.3}{17.3}\selectfont}
\newcommand{\xl}{DAILY BREWER DOSE (kJ m\textsuperscript{-2})}
\newcommand{\yl}{DAILY TOMS DOSE (kJ m\textsuperscript{-2})}
\begin{document}
\begin{tikzpicture}[x=1pt,y=1pt]
\path[use as bounding box] (0,0) rectangle (641,641);
% panel a
\begin{axis}[panel,topl,lefl,at={(64pt,340.5pt)},anchor=south west,width=236.5pt,height=235.5pt]
\addplot[pts] table[x=x,y=y] {\Acommon};
\addplot[pts] table[x=x,y=y] {\Aextra};
\addplot[ident] coordinates {(0,0) (8,8)};
\addplot[fit] coordinates {(0,0.36) (7.02,7.23)};
\end{axis}
% panel b
\begin{axis}[panel,topl,rigl,at={(343.5pt,340.5pt)},anchor=south west,width=236.5pt,height=235.5pt]
\addplot[pts] table[x=x,y=y] {\Bcommon};
\addplot[pts] table[x=x,y=y] {\Bextra};
\addplot[ident] coordinates {(0,0) (8,8)};
\addplot[fit] coordinates {(0,0.53) (7.02,6.94)};
\end{axis}
% panel c
\begin{axis}[panel,botl,lefl,at={(64.5pt,60.5pt)},anchor=south west,width=237.5pt,height=238pt]
\addplot[pts] table[x=x,y=y] {\Acommon};
\addplot[ident] coordinates {(0,0) (8,8)};
\addplot[fit] coordinates {(1,1.26) (7.02,7.24)};
\end{axis}
% panel d
\begin{axis}[panel,botl,rigl,at={(343.5pt,60.5pt)},anchor=south west,width=237pt,height=238pt]
\addplot[pts] table[x=x,y=y] {\Bcommon};
\addplot[ident] coordinates {(0,0) (8,8)};
\addplot[fit] coordinates {(1,1.46) (7.03,6.89)};
\end{axis}
\node[font=\lab] at (183.5,627) {\xl};
\node[font=\lab] at (463,627) {\xl};
\node[font=\lab] at (184.5,9.5) {\xl};
\node[font=\lab] at (463,9.5) {\xl};
\node[font=\lab,rotate=90] at (15,458.5) {\yl};
\node[font=\lab,rotate=90] at (15,178.5) {\yl};
\node[font=\lab,rotate=-90] at (629,459.5) {\yl};
\node[font=\lab,rotate=-90] at (629,181) {\yl};
\node[font=\lab] at (99.5,545) {a)};
\node[font=\lab] at (376,545) {b)};
\node[font=\lab] at (99.5,268) {c)};
\node[font=\lab] at (376,268) {d)};
\end{tikzpicture}
\end{document}
